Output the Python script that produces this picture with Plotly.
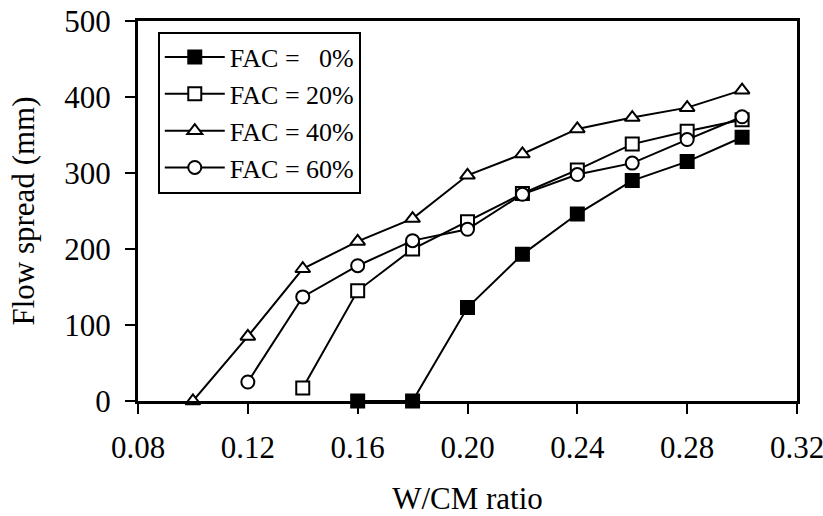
import plotly.graph_objects as go

fac0_x = [0.16, 0.18, 0.20, 0.22, 0.24, 0.26, 0.28, 0.30]
fac0_y = [0, 0, 123, 193, 246, 290, 315, 347]

fac20_x = [0.14, 0.16, 0.18, 0.20, 0.22, 0.24, 0.26, 0.28, 0.30]
fac20_y = [17, 145, 200, 236, 273, 304, 338, 355, 370]

fac40_x = [0.10, 0.12, 0.14, 0.16, 0.18, 0.20, 0.22, 0.24, 0.26, 0.28, 0.30]
fac40_y = [0, 85, 174, 210, 240, 297, 325, 358, 373, 386, 409]

fac60_x = [0.12, 0.14, 0.16, 0.18, 0.20, 0.22, 0.24, 0.26, 0.28, 0.30]
fac60_y = [25, 137, 178, 211, 226, 272, 298, 313, 344, 374]

x_ticks = [0.08, 0.12, 0.16, 0.20, 0.24, 0.28, 0.32]
x_ticktext = ["0.08", "0.12", "0.16", "0.20", "0.24", "0.28", "0.32"]
y_ticks = [0, 100, 200, 300, 400, 500]

names = ["FAC =   0%", "FAC = 20%", "FAC = 40%", "FAC = 60%"]
symbols = ["square", "square", "triangle-up", "circle"]
fills = ["black", "white", "white", "white"]
series = [(fac0_x, fac0_y), (fac20_x, fac20_y), (fac40_x, fac40_y), (fac60_x, fac60_y)]

fig = go.Figure()
for (xs, ys), nm, sym, fc in zip(series, names, symbols, fills):
    fig.add_trace(go.Scatter(
        x=xs, y=ys, mode="lines+markers", name=nm,
        line=dict(color="black", width=2),
        marker=dict(symbol=sym, size=13, color=fc,
                    line=dict(color="black", width=2)),
        cliponaxis=False,
    ))

font_family = "'Liberation Serif', 'Times New Roman', Times, serif"
fig.update_layout(
    width=823, height=516,
    margin=dict(l=138, r=26, t=21, b=115, autoexpand=False),
    paper_bgcolor="white", plot_bgcolor="white",
    font=dict(family=font_family, size=31, color="black"),
    showlegend=True,
    legend=dict(x=0.03, y=0.972, xanchor="left", yanchor="top",
                bordercolor="black", borderwidth=2, bgcolor="white",
                font=dict(size=26, family=font_family), tracegroupgap=0,
                itemwidth=60),
    xaxis=dict(range=[0.08, 0.32], tickvals=x_ticks, ticktext=x_ticktext,
               showline=True, linecolor="black", linewidth=3, mirror=True,
               ticks="outside", ticklen=10, tickwidth=2, tickcolor="black",
               ticklabelstandoff=7, automargin=False, ticklabeloverflow="allow",
               showgrid=False, zeroline=False,
               title=dict(text="W/CM ratio", standoff=28, font=dict(size=31))),
    yaxis=dict(range=[0, 500], tickvals=y_ticks,
               showline=True, linecolor="black", linewidth=3, mirror=True,
               ticks="outside", ticklen=10, tickwidth=2, tickcolor="black",
               ticklabelstandoff=8, automargin=False, ticklabeloverflow="allow",
               showgrid=False, zeroline=False,
               title=dict(text="Flow spread (mm)", standoff=21, font=dict(size=31))),
)

fig.write_html("out.html")
